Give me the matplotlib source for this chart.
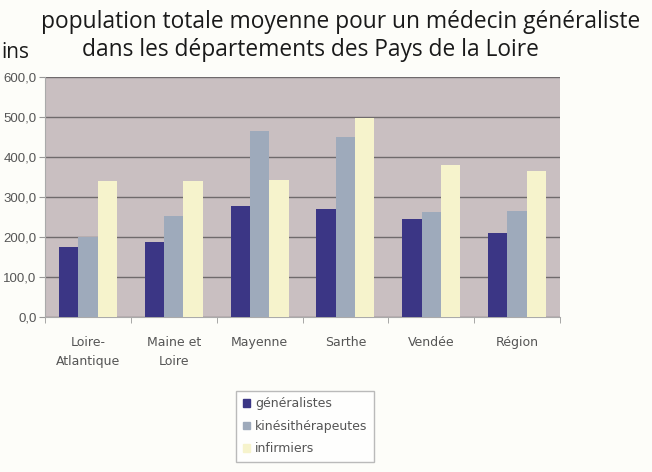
import numpy as np
import matplotlib
matplotlib.use("Agg")
import matplotlib.pyplot as plt
from matplotlib.patches import Patch

departements = ["Loire-\nAtlantique", "Maine et\nLoire", "Mayenne", "Sarthe", "Vendée", "Région"]
generalistes = [175, 188, 278, 270, 246, 209]
kines = [200, 252, 466, 450, 262, 266]
infirmiers = [341, 341, 342, 497, 380, 366]
yticks = [0, 100, 200, 300, 400, 500, 600]

col_gen = "#3b3685"
col_kine = "#9eaabb"
col_inf = "#f6f3cc"
txt_gray = "#555555"

fig = plt.figure(figsize=(6.52, 4.72), dpi=100, facecolor="#fdfdf9")
ax = fig.add_axes([45 / 652, 1 - 316.7 / 472, 515 / 652, (316.7 - 77.3) / 472])
ax.set_facecolor("#c9bfc1")

x = np.arange(len(departements))
w = 0.225
ax.bar(x - w, generalistes, w, color=col_gen, zorder=3)
ax.bar(x, kines, w, color=col_kine, zorder=3)
ax.bar(x + w, infirmiers, w, color=col_inf, zorder=3)

ax.set_xlim(-0.5, len(departements) - 0.5)
ax.set_ylim(0, 600)
ax.set_yticks(yticks)
ax.set_yticklabels([f"{v:.1f}".replace(".", ",") for v in yticks],
                   fontsize=9.5, color=txt_gray, family="Liberation Sans")
ax.yaxis.grid(True, color="#6f6a6c", linewidth=1.0, zorder=1)
ax.tick_params(axis="y", length=4, color="#999999", pad=2)

ax.set_xticks(np.arange(len(departements) + 1) - 0.5, minor=True)
ax.set_xticks(x)
ax.set_xticklabels(departements, fontsize=9, color=txt_gray,
                   family="DejaVu Sans", linespacing=1.6)
ax.tick_params(axis="x", which="major", length=0, pad=14)
ax.tick_params(axis="x", which="minor", length=4, color="#999999")

for side in ["top", "right"]:
    ax.spines[side].set_visible(False)
ax.spines["left"].set_color("#aaaaaa")
ax.spines["bottom"].set_color("#aaaaaa")

# titre sur deux lignes, la seconde décalée vers la gauche
fig.text(341 / 652, 1 - 22 / 472, "population totale moyenne pour un médecin généraliste",
         ha="center", va="center", fontsize=16.4, family="Open Sans", color="#1a1a1a")
fig.text(310 / 652, 1 - 50 / 472, "dans les départements des Pays de la Loire",
         ha="center", va="center", fontsize=16.4, family="Open Sans", color="#1a1a1a")
fig.text(1 / 652, 1 - 52 / 472, "ins", ha="left", va="center",
         fontsize=15, family="Open Sans", color="#1a1a1a")

handles = [Patch(color=col_gen, label="généralistes"),
           Patch(color=col_kine, label="kinésithérapeutes"),
           Patch(color=col_inf, label="infirmiers")]
leg = fig.legend(handles=handles, loc="upper left", bbox_to_anchor=(230 / 652, 1 - 385 / 472),
                 frameon=True, fancybox=False, edgecolor="#aaaaaa",
                 handlelength=0.6, handleheight=0.6, handletextpad=0.4,
                 labelspacing=0.75, borderpad=0.5, prop={"family": "DejaVu Sans", "size": 9})
for t in leg.get_texts():
    t.set_color(txt_gray)

fig.savefig("out.png", dpi=100, facecolor=fig.get_facecolor())
